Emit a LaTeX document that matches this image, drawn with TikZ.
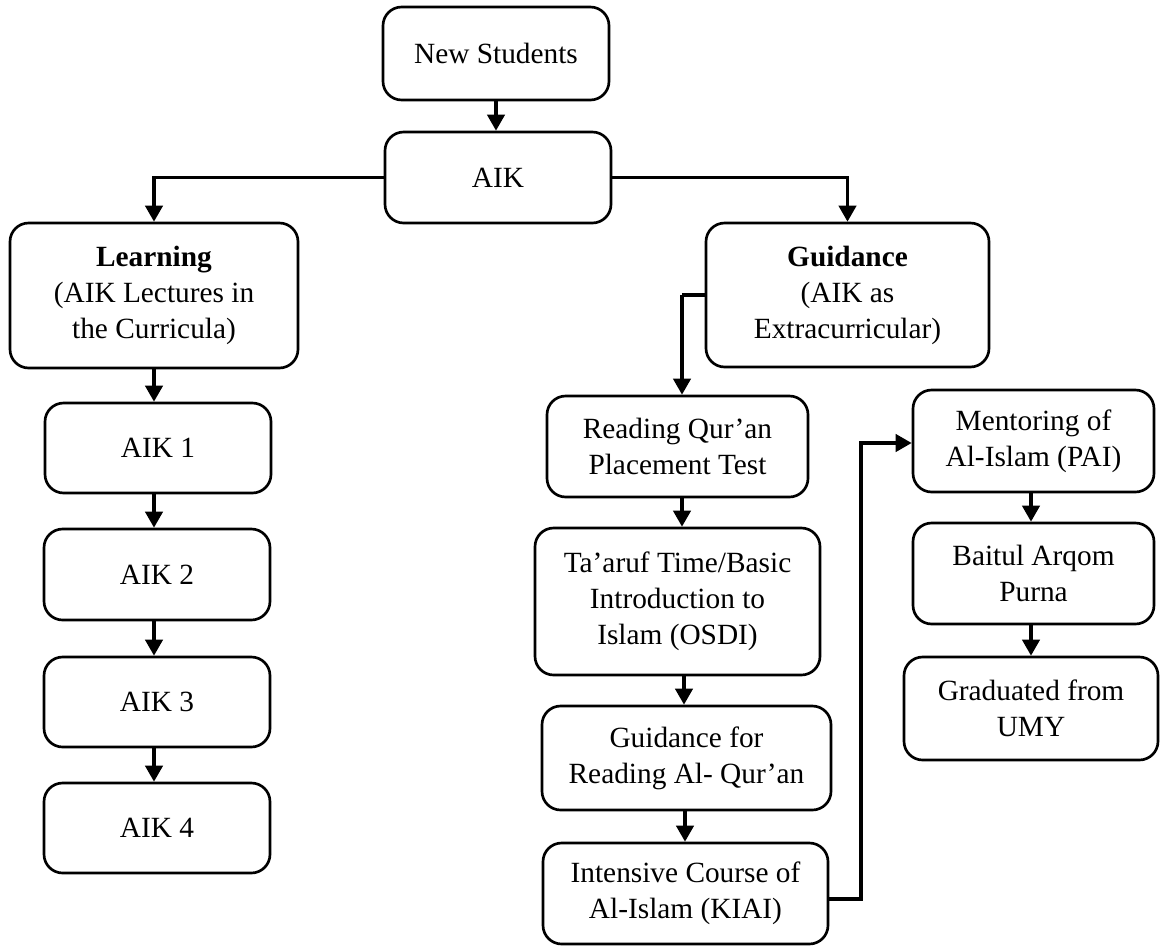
\documentclass[tikz,border=0pt]{standalone}
\usepackage{fontspec}
\setmainfont{Liberation Serif}
\usetikzlibrary{arrows.meta}
\begin{document}
\begin{tikzpicture}[x=0.75pt,y=-0.75pt,
  box/.style={draw,line width=2pt,rounded corners=14pt,align=center,
    font=\fontsize{22}{27}\selectfont,inner sep=0pt},
  conn/.style={line width=2.4pt},
  arr/.style={line width=2.4pt,-{Triangle[width=13pt,length=12pt]}}]
\useasboundingbox (0,0) rectangle (1160,946);
% nodes
\node[box,minimum width=226*0.75pt,minimum height=93*0.75pt] (ns) at (496,53.5) {New Students};
\node[box,minimum width=226*0.75pt,minimum height=91*0.75pt] (aik) at (498,177.5) {AIK};
\node[box,minimum width=288*0.75pt,minimum height=145*0.75pt] (learn) at (154,295.5) {\textbf{Learning}\\(AIK Lectures in\\the Curricula)};
\node[box,minimum width=283*0.75pt,minimum height=144*0.75pt] (guid) at (847.5,295) {\textbf{Guidance}\\(AIK as\\Extracurricular)};
\node[box,minimum width=226*0.75pt,minimum height=90*0.75pt] (aik1) at (158,448) {AIK 1};
\node[box,minimum width=226*0.75pt,minimum height=91*0.75pt] (aik2) at (157,574.5) {AIK 2};
\node[box,minimum width=226*0.75pt,minimum height=90*0.75pt] (aik3) at (157,702) {AIK 3};
\node[box,minimum width=226*0.75pt,minimum height=90*0.75pt] (aik4) at (157,828) {AIK 4};
\node[box,minimum width=261*0.75pt,minimum height=101*0.75pt] (read) at (677.5,446.5) {Reading Qur’an\\Placement Test};
\node[box,minimum width=285*0.75pt,minimum height=147*0.75pt] (taaruf) at (677.5,601.5) {Ta’aruf Time/Basic\\Introduction to\\Islam (OSDI)};
\node[box,minimum width=289*0.75pt,minimum height=104*0.75pt] (gfr) at (686.5,758) {Guidance for\\Reading Al- Qur’an};
\node[box,minimum width=285*0.75pt,minimum height=101*0.75pt] (kiai) at (685.5,893.5) {Intensive Course of\\Al-Islam (KIAI)};
\node[box,minimum width=241*0.75pt,minimum height=102*0.75pt] (ment) at (1033.5,441) {Mentoring of\\Al-Islam (PAI)};
\node[box,minimum width=241*0.75pt,minimum height=101*0.75pt] (bait) at (1033.5,573.5) {Baitul Arqom\\Purna};
\node[box,minimum width=254*0.75pt,minimum height=103*0.75pt] (grad) at (1031,708.5) {Graduated from\\UMY};
% helper coordinates
\coordinate (g1) at (682,295);
\coordinate (k1) at (861,899);
\coordinate (k2) at (861,443);
% connectors
\draw[arr] (ns.south) -- (ns.south |- aik.north);
\draw[arr] (aik.west) -| (learn.north);
\draw[arr] (aik.east) -| (guid.north);
\draw[arr] (learn.south) -- (learn.south |- aik1.north);
\draw[arr] (aik1.south -| learn.south) -- (learn.south |- aik2.north);
\draw[arr] (aik2.south -| learn.south) -- (learn.south |- aik3.north);
\draw[arr] (aik3.south -| learn.south) -- (learn.south |- aik4.north);
\draw[conn] (guid.west) -- (g1);
\draw[arr] (g1) -- (g1 |- read.north);
\draw[arr] (read.south -| g1) -- (g1 |- taaruf.north);
\draw[arr] ([xshift=2*0.75pt]taaruf.south -| g1) -- ([xshift=2*0.75pt]g1 |- gfr.north);
\draw[arr] ([xshift=3*0.75pt]gfr.south -| g1) -- ([xshift=3*0.75pt]g1 |- kiai.north);
\draw[arr] (kiai.east |- k1) -- (k1) -- (k2) -- (k2 -| ment.west);
\draw[arr] (ment.south -| grad.north) -- (bait.north -| grad.north);
\draw[arr] (bait.south -| grad.north) -- (grad.north);
\end{tikzpicture}
\end{document}
